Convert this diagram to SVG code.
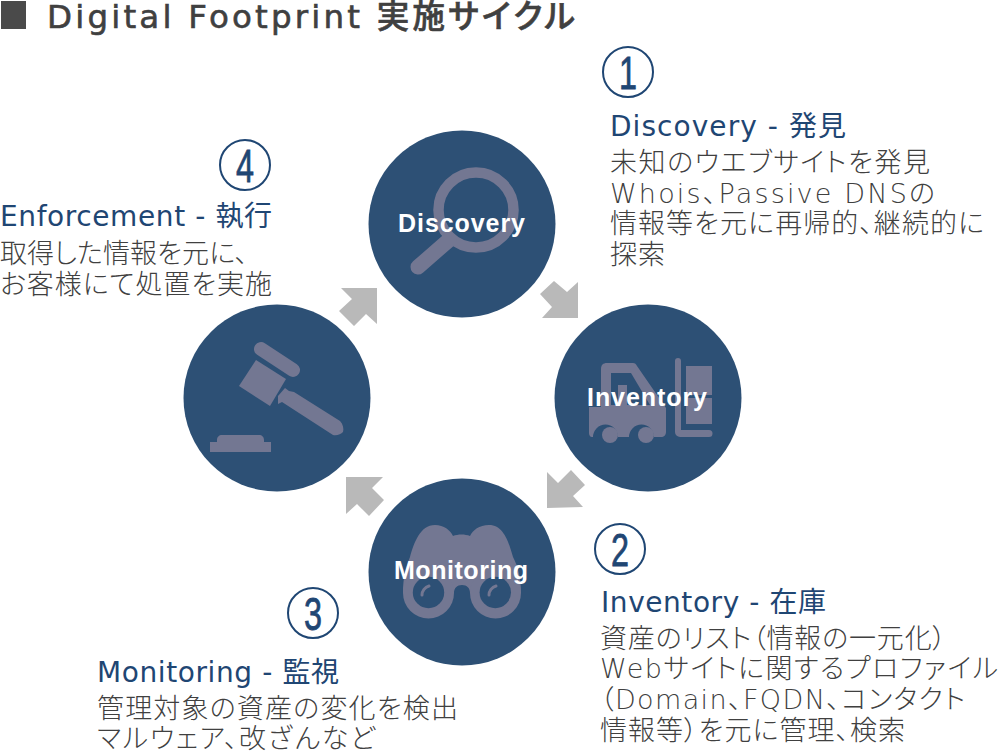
<svg xmlns="http://www.w3.org/2000/svg" width="1000" height="752" viewBox="0 0 1000 752">
<style>
text{font-family:"DejaVu Sans","Noto Sans CJK JP",sans-serif;font-feature-settings:"palt"}
.t{font-size:27px;fill:#404040;font-weight:200}
.h{font-size:28px;fill:#1f4673;font-weight:400}
.c{fill:#2d5075}
.i{fill:#737792}
.s{fill:none;stroke:#737792}
.l{font-size:25px;fill:#fff;font-weight:700;font-family:"Liberation Sans",sans-serif}
.a{fill:#b9b9b9}
.r{fill:#fff;stroke:#1f4673;stroke-width:2}
.n{font-size:46px;fill:#1f4673;font-weight:400;stroke:#1f4673;stroke-width:.8;font-family:"Liberation Sans",sans-serif}
</style>
<rect width="1000" height="752" fill="#fff"/>
<g id="title">
<rect x="1" y="1" width="25" height="28" fill="#4a4a4a"/>
<text x="47" y="28" textLength="528" style="font-size:32.500px;font-weight:500" fill="#404040" stroke="#404040" stroke-width=".6">Digital Footprint 実施サイクル</text>
</g>
<g id="connectors">
<polygon class="a" points="377,288 341,288 352,299 339,311 354,326 366,314 377,324"/>
<polygon class="a" points="578,318 578,282 567,292 554,281 540,294 552,307 542,318"/>
<polygon class="a" points="547,508 547,472 558,483 571,470 585,485 573,496 583,507"/>
<polygon class="a" points="346,477 383,477 372,488 384,500 369,516 357,504 346,514"/>
</g>
<g id="discovery">
<circle class="c" cx="462" cy="224" r="93.5"/>
<circle class="s" cx="476" cy="210" r="37.5" stroke-width="10.5"/>
<line class="s" x1="449" y1="240" x2="418" y2="267" stroke-width="15" stroke-linecap="round"/>
<text class="l" x="398" y="232" textLength="127">Discovery</text>
</g>
<g id="inventory">
<circle class="c" cx="648" cy="398" r="93.5"/>
<path class="i" fill-rule="evenodd" d="M589 407h12v-38c0-4 2-6 6-6h26c2 0 3 1 4 3l29 42v24c0 3-2 5-5 5h-7a12.500 12.500 0 0 0-25 0h-11a12.500 12.500 0 0 0-25 0h-1c-2 0-3-2-3-4zM611 373v32h7v-20h9v20h23l-19-32z"/>
<circle class="i" cx="610" cy="435" r="8"/><circle class="i" cx="646" cy="435" r="8"/>
<path class="i" d="M675 361a3 3 0 0 1 6 0v69h28a3 3 0 0 1 0 7h-29a5 5 0 0 1-5-5z"/>
<rect class="i" x="686" y="366" width="26" height="29"/>
<rect class="i" x="686" y="398" width="26" height="26"/>
<text class="l" x="587" y="406" textLength="120">Inventory</text>
</g>
<g id="monitoring">
<circle class="c" cx="462" cy="572" r="93.5"/>
<path class="i" d="M403 593c0-16 3-26 7-36c4-14 10-32 25-32c9 0 15 5 18 11c5-2 12-2 17 0c3-6 9-11 19-11c15 0 20 18 24 32c5 10 8 20 8 36H470c0-5-3-8-8-8s-8 3-8 8z"/>
<circle class="i" cx="428.500" cy="593" r="25.500"/>
<circle class="i" cx="495.500" cy="593" r="25.500"/>
<circle class="c" cx="428.500" cy="592.500" r="15.700"/>
<circle class="c" cx="495.300" cy="592.500" r="15.700"/>
<path fill="none" stroke="#737792" stroke-width="3" stroke-linecap="round" d="M422 595c0-4 3-8 7-9M489 595c0-4 3-8 7-9"/>
<text class="l" x="394" y="579" textLength="134">Monitoring</text>
</g>
<g id="enforcement">
<circle class="c" cx="277" cy="398" r="93.5"/>
<line x1="261" y1="349" x2="293" y2="370" stroke="#737792" stroke-width="14" stroke-linecap="round"/>
<polygon class="i" points="256,360 286,379 270,406 239,386"/>
<path class="i" d="M278 396l7-8 4 3 5 1 46 29c3 3 4 8 3 11c-2 2-6 4-10 3l-51-33-4 2z"/>
<path class="i" d="M210 452v-10h7v-2c0-3 2-5 5-5h37c3 0 5 2 5 5v2h7v10z"/>
</g>
<g id="step1">
<circle class="r" cx="628" cy="72" r="25"/><text class="n" x="619" y="88.500" textLength="18" lengthAdjust="spacingAndGlyphs">1</text>
<text class="h" x="610" y="136" textLength="236">Discovery - 発見</text>
<text class="t" x="610" y="172" textLength="320">未知のウエブサイトを発見</text>
<text class="t" x="610" y="203" textLength="325">Whois、Passive DNSの</text>
<text class="t" x="610" y="233" textLength="374">情報等を元に再帰的、継続的に</text>
<text class="t" x="610" y="264" textLength="55">探索</text>
</g>
<g id="step2">
<circle class="r" cx="620" cy="549" r="25"/><text class="n" x="611" y="565.500" textLength="18" lengthAdjust="spacingAndGlyphs">2</text>
<text class="h" x="601" y="612" textLength="225">Inventory - 在庫</text>
<text class="t" x="600" y="648" textLength="346">資産のリスト（情報の一元化）</text>
<text class="t" x="600" y="678" textLength="398">Webサイトに関するプロファイル</text>
<text class="t" x="600" y="709" textLength="365">（Domain、FQDN、コンタクト</text>
<text class="t" x="600" y="740" textLength="305">情報等）を元に管理、検索</text>
</g>
<g id="step3">
<circle class="r" cx="313" cy="613" r="25"/><text class="n" x="304" y="629.500" textLength="18" lengthAdjust="spacingAndGlyphs">3</text>
<text class="h" x="97" y="682" textLength="242">Monitoring - 監視</text>
<text class="t" x="97" y="718" textLength="361">管理対象の資産の変化を検出</text>
<text class="t" x="97" y="748" textLength="278">マルウェア、改ざんなど</text>
</g>
<g id="step4">
<circle class="r" cx="245" cy="165" r="25"/><text class="n" x="236" y="181.500" textLength="18" lengthAdjust="spacingAndGlyphs">4</text>
<text class="h" x="0" y="226" textLength="272">Enforcement - 執行</text>
<text class="t" x="0" y="263" textLength="248">取得した情報を元に、</text>
<text class="t" x="0" y="294" textLength="272">お客様にて処置を実施</text>
</g>
</svg>
